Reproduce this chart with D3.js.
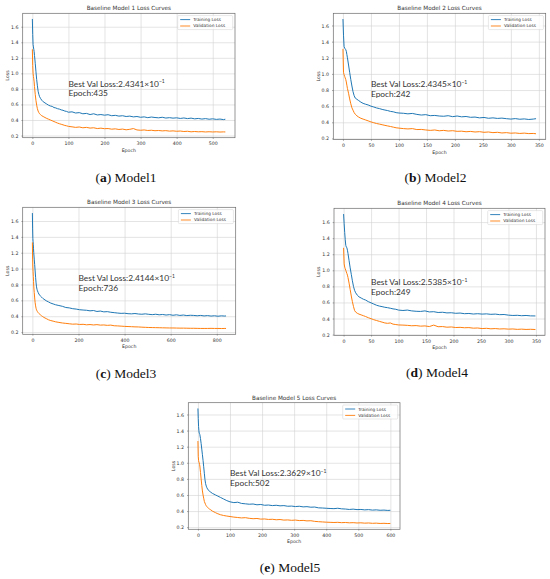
<!DOCTYPE html>
<html lang="en">
<head>
<meta charset="UTF-8"/>
<title>Baseline Model Loss Curves</title>
<script src="https://d3js.org/d3.v7.min.js"></script>
<style>
  body { margin: 0; background-color: white; }
  .grid line { stroke: #d2d2d2; stroke-width: 0.6; }
  .grid path { display: none; }
  .axis path { display: none; }
  .axis line { stroke: #555; stroke-width: 0.5; }
  .axis text { font-family: "DejaVu Sans", sans-serif; font-size: 4.7px; fill: #333; }
  .frame { fill: none; stroke: #6a6a6a; stroke-width: 0.7; }
  .train { fill: none; stroke: #1f77b4; stroke-width: 1; }
  .val { fill: none; stroke: #ff7f0e; stroke-width: 1; }
  .title, .label { font-family: "DejaVu Sans", sans-serif; fill: #333; }
  .title { font-size: 5.7px; }
  .label { font-size: 4.7px; }
  .legend text { font-family: "DejaVu Sans", sans-serif; font-size: 4.3px; fill: #333; }
  .note { font-family: Lato, "Open Sans", sans-serif; font-size: 8.4px; fill: #333; }
  .caption { font-family: "Liberation Serif", serif; font-size: 13.5px; fill: #111; }
</style>
</head>
<body>
<div id="chart"></div>
<script>
// ---- data ----
var titles = ["Baseline Model 1 Loss Curves", "Baseline Model 2 Loss Curves", "Baseline Model 3 Loss Curves",
              "Baseline Model 4 Loss Curves", "Baseline Model 5 Loss Curves"];
var captionLetters = ["a", "b", "c", "d", "e"];
var captionNames = ["Model1", "Model2", "Model3", "Model4", "Model5"];
var bestVal = ["2.4341", "2.4345", "2.4144", "2.5385", "2.3629"];
var bestEpoch = [435, 242, 736, 249, 502];
var seriesNames = ["Training Loss", "Validation Loss"];
var lossTicks = [0.2, 0.4, 0.6, 0.8, 1.0, 1.2, 1.4, 1.6];
var epochTicks = [
  [0, 100, 200, 300, 400, 500],
  [0, 50, 100, 150, 200, 250, 300, 350],
  [0, 200, 400, 600, 800],
  [0, 50, 100, 150, 200, 250, 300, 350],
  [0, 100, 200, 300, 400, 500, 600]
];

var m1Epochs = [0,1,2,3,4,5,6,8,10,12,14,16,18,20,23,26,30,35,40,45,50,55,60,65,70,75,80,85,90,95,100,
  110,120,130,140,150,160,170,180,190,200,210,220,230,240,250,260,270,280,290,300,310,320,330,340,350,
  360,370,380,390,400,410,420,430,440,450,460,470,480,490,500,510,520,530,535];
var m1Train = [1.70,1.50,1.37,1.34,1.31,1.28,1.23,1.13,1.02,0.92,0.84,0.77,0.73,0.70,0.675,0.655,0.635,0.62,0.605,0.59,0.58,0.575,0.56,0.555,0.545,0.54,0.53,0.525,0.515,0.51,0.50,
  0.505,0.49,0.495,0.48,0.485,0.47,0.48,0.465,0.47,0.462,0.468,0.455,0.46,0.45,0.455,0.445,0.45,0.44,0.445,0.435,0.44,0.43,0.438,0.432,0.428,
  0.435,0.425,0.43,0.424,0.428,0.42,0.426,0.418,0.424,0.415,0.42,0.412,0.418,0.41,0.415,0.408,0.412,0.405,0.41];
var m1Val = [1.31,1.10,1.00,0.96,0.93,0.89,0.83,0.73,0.65,0.59,0.545,0.515,0.495,0.48,0.468,0.455,0.445,0.432,0.42,0.41,0.40,0.39,0.38,0.37,0.36,0.352,0.345,0.338,0.33,0.325,0.318,
  0.312,0.305,0.31,0.30,0.305,0.296,0.30,0.29,0.295,0.288,0.29,0.282,0.286,0.278,0.283,0.274,0.28,0.29,0.272,0.268,0.272,0.265,0.268,0.262,0.265,
  0.26,0.263,0.257,0.26,0.255,0.258,0.252,0.255,0.248,0.252,0.248,0.25,0.246,0.249,0.246,0.248,0.245,0.247,0.246];

var m2Epochs = [0,1,2,3,4,5,6,7,8,10,12,14,16,18,20,22,25,28,32,36,40,45,50,55,60,65,70,75,80,85,90,95,100,
  108,116,124,132,140,148,156,164,172,180,188,196,204,212,220,228,236,244,252,260,268,276,284,292,300,308,316,324,332,340,345];
var m2Train = [1.68,1.48,1.34,1.32,1.31,1.30,1.28,1.24,1.20,1.11,1.02,0.93,0.85,0.78,0.73,0.70,0.685,0.67,0.65,0.635,0.625,0.615,0.60,0.59,0.578,0.57,0.56,0.552,0.545,0.535,0.53,0.52,0.515,
  0.512,0.505,0.51,0.498,0.49,0.495,0.482,0.485,0.478,0.475,0.482,0.47,0.478,0.468,0.472,0.462,0.465,0.455,0.46,0.45,0.455,0.448,0.452,0.445,0.44,0.446,0.438,0.442,0.435,0.44,0.445];
var m2Val = [1.31,1.02,0.99,0.97,0.95,0.93,0.90,0.86,0.82,0.76,0.69,0.63,0.58,0.55,0.52,0.50,0.48,0.465,0.45,0.44,0.43,0.418,0.405,0.395,0.385,0.378,0.37,0.362,0.355,0.348,0.34,0.332,0.328,
  0.322,0.318,0.322,0.31,0.312,0.305,0.30,0.305,0.295,0.30,0.292,0.296,0.288,0.29,0.283,0.287,0.28,0.284,0.276,0.28,0.272,0.276,0.268,0.272,0.265,0.268,0.262,0.266,0.26,0.262,0.258];

var m3Epochs = [0,1,2,3,4,5,6,8,10,12,14,16,18,20,22,25,28,32,36,40,45,50,60,70,80,90,100,
  115,130,145,160,175,190,205,220,235,250,265,280,295,310,325,340,355,370,385,400,415,430,445,460,475,490,505,520,535,550,
  565,580,595,610,625,640,655,670,685,700,715,730,745,760,775,790,805,820,835,840];
var m3Train = [1.70,1.50,1.38,1.34,1.30,1.25,1.20,1.12,1.05,0.97,0.89,0.82,0.77,0.74,0.72,0.70,0.68,0.665,0.65,0.64,0.625,0.615,0.595,0.58,0.565,0.555,0.545,
  0.535,0.525,0.51,0.505,0.495,0.49,0.482,0.478,0.475,0.468,0.472,0.46,0.465,0.455,0.458,0.45,0.445,0.44,0.436,0.438,0.432,0.43,0.434,0.428,0.425,0.43,0.424,0.42,0.425,0.418,
  0.422,0.415,0.42,0.412,0.418,0.41,0.415,0.408,0.412,0.41,0.406,0.41,0.404,0.408,0.402,0.406,0.40,0.405,0.402,0.404];
var m3Val = [1.33,1.12,1.02,0.96,0.90,0.84,0.78,0.70,0.63,0.57,0.53,0.50,0.48,0.468,0.458,0.445,0.435,0.425,0.415,0.405,0.395,0.385,0.37,0.355,0.345,0.338,0.33,
  0.322,0.315,0.31,0.305,0.30,0.302,0.296,0.298,0.292,0.295,0.29,0.294,0.288,0.29,0.285,0.288,0.28,0.278,0.275,0.272,0.27,0.268,0.266,0.265,0.262,0.26,0.258,0.257,0.256,0.255,
  0.254,0.253,0.252,0.252,0.251,0.25,0.25,0.249,0.248,0.248,0.247,0.246,0.246,0.246,0.247,0.246,0.246,0.245,0.246,0.246];

var m4Epochs = [0,1,2,3,4,5,6,7,8,10,12,14,16,18,20,22,25,28,32,36,40,45,50,55,60,65,70,75,80,85,90,95,100,
  108,116,124,132,140,148,156,164,172,180,188,196,204,212,220,228,236,244,252,260,268,276,284,292,300,308,316,324,332,340,349];
var m4Train = [1.70,1.58,1.47,1.38,1.31,1.29,1.28,1.25,1.21,1.12,1.03,0.95,0.87,0.80,0.75,0.72,0.69,0.67,0.655,0.64,0.63,0.61,0.595,0.58,0.565,0.555,0.548,0.54,0.535,0.528,0.52,0.515,0.505,
  0.50,0.505,0.495,0.49,0.488,0.495,0.482,0.485,0.475,0.478,0.47,0.472,0.465,0.468,0.46,0.463,0.456,0.46,0.455,0.458,0.452,0.455,0.448,0.45,0.442,0.438,0.44,0.435,0.438,0.433,0.432];
var m4Val = [1.28,1.08,1.04,1.02,1.00,0.98,0.96,0.94,0.91,0.84,0.76,0.68,0.61,0.55,0.50,0.48,0.465,0.455,0.445,0.435,0.425,0.41,0.398,0.385,0.375,0.365,0.355,0.345,0.34,0.345,0.33,0.325,0.32,
  0.318,0.315,0.31,0.312,0.305,0.308,0.30,0.318,0.298,0.30,0.292,0.295,0.288,0.29,0.285,0.287,0.28,0.282,0.275,0.278,0.272,0.275,0.27,0.272,0.268,0.27,0.265,0.268,0.264,0.266,0.263];

var m5Epochs = [0,1,2,3,4,5,6,8,10,12,14,16,18,20,22,24,26,28,30,33,36,40,45,50,55,60,70,80,90,100,
  112,124,136,148,160,172,184,196,208,220,232,244,256,268,280,292,304,316,328,340,352,364,376,388,400,412,424,436,448,460,
  472,484,496,508,520,532,544,556,568,580,592,600];
var m5Train = [1.675,1.55,1.45,1.40,1.37,1.36,1.35,1.30,1.24,1.17,1.10,1.03,0.95,0.87,0.79,0.74,0.71,0.69,0.675,0.66,0.645,0.635,0.62,0.61,0.60,0.59,0.57,0.55,0.53,0.515,
  0.505,0.51,0.495,0.49,0.485,0.488,0.478,0.482,0.472,0.475,0.468,0.472,0.465,0.468,0.46,0.462,0.456,0.46,0.452,0.455,0.448,0.45,0.44,0.438,0.435,0.432,0.43,0.435,0.428,0.425,
  0.42,0.424,0.418,0.42,0.415,0.418,0.412,0.415,0.41,0.412,0.408,0.41];
var m5Val = [1.27,1.08,1.03,1.01,1.00,0.98,0.96,0.88,0.80,0.72,0.65,0.60,0.56,0.52,0.50,0.48,0.465,0.455,0.445,0.435,0.425,0.415,0.40,0.39,0.38,0.37,0.355,0.345,0.338,0.332,
  0.325,0.32,0.315,0.318,0.31,0.305,0.308,0.30,0.302,0.296,0.298,0.292,0.295,0.288,0.29,0.285,0.288,0.282,0.284,0.278,0.28,0.272,0.268,0.265,0.262,0.26,0.258,0.26,0.256,0.258,
  0.254,0.256,0.252,0.254,0.25,0.252,0.248,0.25,0.246,0.248,0.245,0.246];

var epochList = [m1Epochs, m2Epochs, m3Epochs, m4Epochs, m5Epochs];
var trainList = [m1Train, m2Train, m3Train, m4Train, m5Train];
var valList = [m1Val, m2Val, m3Val, m4Val, m5Val];

// ---- layout of the five panels (pixels) ----
var panels = [
  {left: 22.7, top: 13.3, right: 235, bottom: 137.7, noteX: 100, noteY: 0.83, capX: 126, capY: 182},
  {left: 333.3, top: 13.3, right: 545.7, bottom: 139.5, noteX: 50, noteY: 0.835, capX: 435.5, capY: 181.7},
  {left: 22.7, top: 207.3, right: 235.7, bottom: 334.3, noteX: 200, noteY: 0.847, capX: 126, capY: 377.5},
  {left: 334, top: 208.3, right: 545, bottom: 335.3, noteX: 50, noteY: 0.82, capX: 437, capY: 377.3},
  {left: 188.3, top: 402.7, right: 400, bottom: 529.3, noteX: 100, noteY: 0.83, capX: 290, capY: 571.7}
];

var w = 550, h = 579;
var svg = d3.select("#chart").append("svg")
  .attr("width", w).attr("height", h);

panels.forEach(function(p, i){ drawPanel(p, i); });

function drawPanel(p, i){
  var ep = epochList[i], tr = trainList[i], va = valList[i];
  var xMin = d3.min(ep), xMax = d3.max(ep);
  var xPad = (xMax - xMin) * 0.05;
  var all = tr.concat(va);
  var yMin = d3.min(all), yMax = d3.max(all);
  var yPad = (yMax - yMin) * 0.05;

  var xScale = d3.scaleLinear().domain([xMin - xPad, xMax + xPad]).range([p.left, p.right]);
  var yScale = d3.scaleLinear().domain([yMin - yPad, yMax + yPad]).range([p.bottom, p.top]);

  var g = svg.append("g");

  // grid
  g.append("g").attr("class", "grid")
    .attr("transform", "translate(0," + p.bottom + ")")
    .call(d3.axisBottom(xScale).tickValues(epochTicks[i]).tickSize(-(p.bottom - p.top)).tickFormat(""));
  g.append("g").attr("class", "grid")
    .attr("transform", "translate(" + p.left + ",0)")
    .call(d3.axisLeft(yScale).tickValues(lossTicks).tickSize(-(p.right - p.left)).tickFormat(""));

  var line = function(vals){
    return d3.line()
      .x(function(d, k){ return xScale(ep[k]); })
      .y(function(d){ return yScale(d); })(vals);
  };
  g.append("path").attr("class", "train").attr("d", line(tr));
  g.append("path").attr("class", "val").attr("d", line(va));

  g.append("rect").attr("class", "frame")
    .attr("x", p.left).attr("y", p.top)
    .attr("width", p.right - p.left).attr("height", p.bottom - p.top);

  // axes
  g.append("g").attr("class", "axis")
    .attr("transform", "translate(0," + p.bottom + ")")
    .call(d3.axisBottom(xScale).tickValues(epochTicks[i]).tickSize(1.3).tickPadding(3).tickFormat(d3.format("d")));
  g.append("g").attr("class", "axis")
    .attr("transform", "translate(" + p.left + ",0)")
    .call(d3.axisLeft(yScale).tickValues(lossTicks).tickSize(1.3).tickPadding(3).tickFormat(d3.format(".1f")));

  g.append("text").attr("class", "title")
    .attr("x", (p.left + p.right) / 2).attr("y", p.top - 3)
    .attr("text-anchor", "middle").text(titles[i]);
  g.append("text").attr("class", "label")
    .attr("x", (p.left + p.right) / 2).attr("y", p.bottom + 14)
    .attr("text-anchor", "middle").text("Epoch");
  g.append("text").attr("class", "label")
    .attr("transform", "translate(" + (p.left - 13.8) + "," + ((p.top + p.bottom) / 2) + ") rotate(-90)")
    .attr("text-anchor", "middle").text("Loss");

  // legend
  var lw = 55, lh = 14;
  var lg = g.append("g").attr("class", "legend")
    .attr("transform", "translate(" + (p.right - lw - 2.3) + "," + (p.top + 2.3) + ")");
  lg.append("rect").attr("width", lw).attr("height", lh).attr("rx", 1)
    .attr("fill", "white").attr("fill-opacity", 0.8).attr("stroke", "#d0d0d0").attr("stroke-width", 0.5);
  var colours = ["#1f77b4", "#ff7f0e"];
  seriesNames.forEach(function(name, k){
    var yy = 4 + k * 6.4;
    lg.append("line").attr("x1", 2.5).attr("x2", 12.5).attr("y1", yy).attr("y2", yy)
      .attr("stroke", colours[k]).attr("stroke-width", 0.9);
    lg.append("text").attr("x", 15.5).attr("y", yy + 1.5).text(name);
  });

  // best value note
  var nx = xScale(p.noteX), ny = yScale(p.noteY);
  var t1 = g.append("text").attr("class", "note").attr("x", nx).attr("y", ny);
  t1.append("tspan").text("Best Val Loss:" + bestVal[i] + "\u00d710");
  t1.append("tspan").attr("dy", -3.2).attr("font-size", "5px").text("\u22121");
  g.append("text").attr("class", "note").attr("x", nx).attr("y", ny + 9.8)
    .text("Epoch:" + bestEpoch[i]);

  // caption
  var cap = svg.append("text").attr("class", "caption")
    .attr("x", p.capX).attr("y", p.capY).attr("text-anchor", "middle");
  cap.append("tspan").text("(");
  cap.append("tspan").attr("font-weight", "bold").text(captionLetters[i]);
  cap.append("tspan").text(") " + captionNames[i]);
}
</script>
</body>
</html>
